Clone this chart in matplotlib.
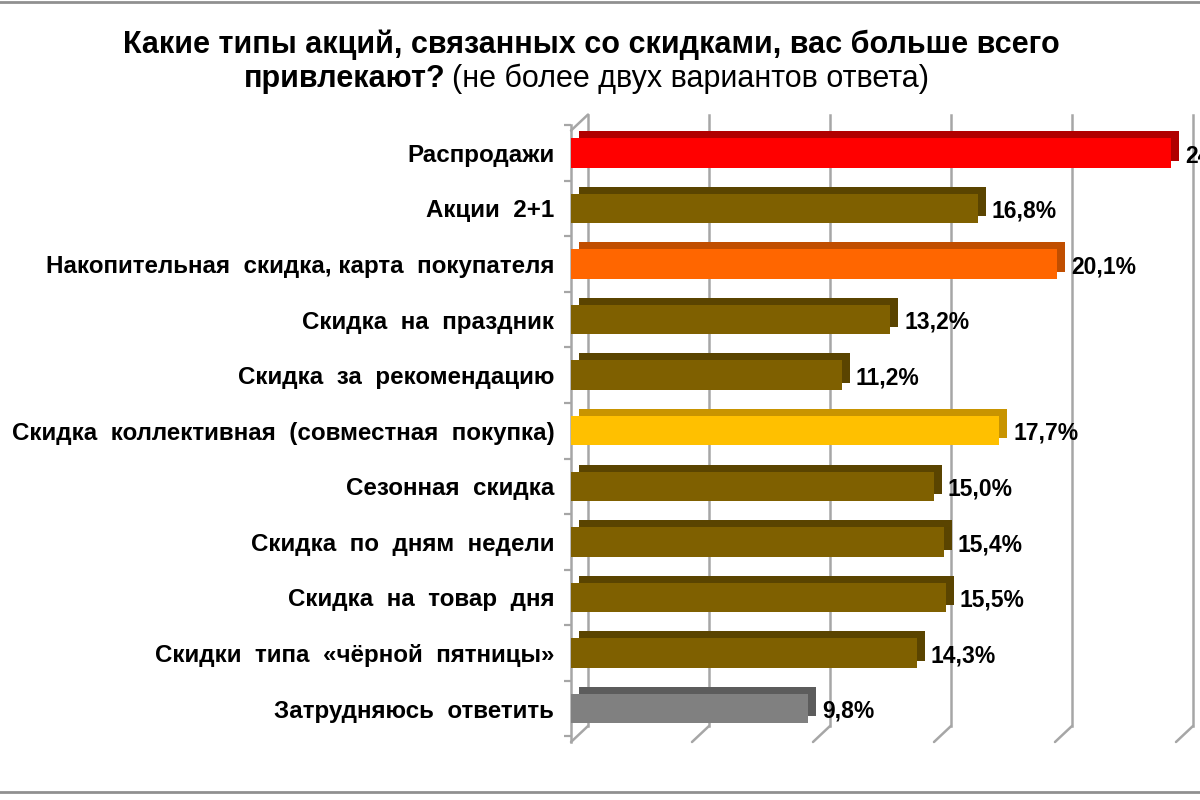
import matplotlib.pyplot as plt
import matplotlib.transforms as mtransforms
from matplotlib.patches import ConnectionPatch
from matplotlib.lines import Line2D

plt.rcParams['font.family'] = ['Liberation Sans', 'DejaVu Sans']

# data
categories = [
    "Распродажи",
    "Акции  2+1",
    "Накопительная  скидка, карта  покупателя",
    "Скидка  на  праздник",
    "Скидка  за  рекомендацию",
    "Скидка  коллективная  (совместная  покупка)",
    "Сезонная  скидка",
    "Скидка  по  дням  недели",
    "Скидка  на  товар  дня",
    "Скидки  типа  «чёрной  пятницы»",
    "Затрудняюсь  ответить",
]
values = [24.8, 16.8, 20.1, 13.2, 11.2, 17.7, 15.0, 15.4, 15.5, 14.3, 9.8]
labels = ["24,8%", "16,8%", "20,1%", "13,2%", "11,2%", "17,7%",
          "15,0%", "15,4%", "15,5%", "14,3%", "9,8%"]
front_colors = ["#FF0000", "#7F6000", "#FF6600", "#7F6000", "#7F6000", "#FFC000",
                "#7F6000", "#7F6000", "#7F6000", "#7F6000", "#808080"]
side_colors = ["#B00000", "#5A4400", "#C04E00", "#5A4400", "#5A4400", "#C89400",
               "#5A4400", "#5A4400", "#5A4400", "#5A4400", "#5C5C5C"]
grid_ticks = [0, 5, 10, 15, 20, 25]

fig = plt.figure(figsize=(12, 8), dpi=100)
ax = fig.add_axes([571 / 1200, 58 / 800, 629 / 1200, (742 - 125) / 800])
ax.set_xlim(0, 629 / 24.2)
ax.set_ylim(10.6, -0.4)

# offsets for the pseudo-3D look
bar_depth = mtransforms.offset_copy(ax.transData, fig=fig, x=8, y=7, units='dots')
wall_depth = mtransforms.offset_copy(ax.transData, fig=fig, x=17, y=16, units='dots')

# back wall gridlines and floor lines
ybot, ytop = 10.6, -0.4
grid_kw = dict(color="#A6A6A6", lw=1.8, zorder=1)
for v in grid_ticks:
    ax.plot([v, v], [ybot, ytop], transform=wall_depth, clip_on=False, **grid_kw)
    ax.add_artist(ConnectionPatch(xyA=(v, ybot), coordsA=ax.transData,
                                  xyB=(v, ybot), coordsB=wall_depth, **grid_kw))
ax.add_artist(ConnectionPatch(xyA=(0, ytop), coordsA=ax.transData,
                              xyB=(0, ytop), coordsB=wall_depth, **grid_kw))

y = list(range(len(categories)))
ax.barh(y, values, height=0.53, color=side_colors, transform=bar_depth, zorder=2)
ax.barh(y, values, height=0.53, color=front_colors, zorder=3)

for yi, v, lab in zip(y, values, labels):
    ax.annotate(lab, (v, yi), xytext=(10, -2), textcoords='offset points',
                ha='left', va='center', fontsize=16.5, fontweight='bold',
                color='black', annotation_clip=False)

ax.set_yticks(y)
ax.set_yticklabels(categories, fontsize=17.4, fontweight='bold')
ax.tick_params(axis='y', length=0, pad=12)
ax.set_yticks([i + 0.5 for i in range(-1, len(categories))], minor=True)
ax.tick_params(axis='y', which='minor', length=5, color="#A6A6A6", width=1.6)
ax.set_xticks([])
for s in ['top', 'right', 'bottom']:
    ax.spines[s].set_visible(False)
ax.spines['left'].set_color("#A6A6A6")
ax.spines['left'].set_linewidth(1.8)
ax.patch.set_visible(False)

# title
fig.text(591 / 1200, 1 - 45 / 800, "Какие типы акций, связанных со скидками, вас больше всего",
         ha='center', va='center', fontsize=22, fontweight='bold')
fig.text(446 / 1200, 1 - 79 / 800, "привлекают?", ha='right', va='center',
         fontsize=22, fontweight='bold')
fig.text(452 / 1200, 1 - 79 / 800, "(не более двух вариантов ответа)", ha='left',
         va='center', fontsize=22)

# frame lines
fig.add_artist(Line2D([0, 1], [0.998, 0.998], color="#909090", lw=2, transform=fig.transFigure))
fig.add_artist(Line2D([0, 1], [1 - 792 / 800, 1 - 792 / 800], color="#909090", lw=2,
                      transform=fig.transFigure))

fig.savefig("out.png", dpi=100)
